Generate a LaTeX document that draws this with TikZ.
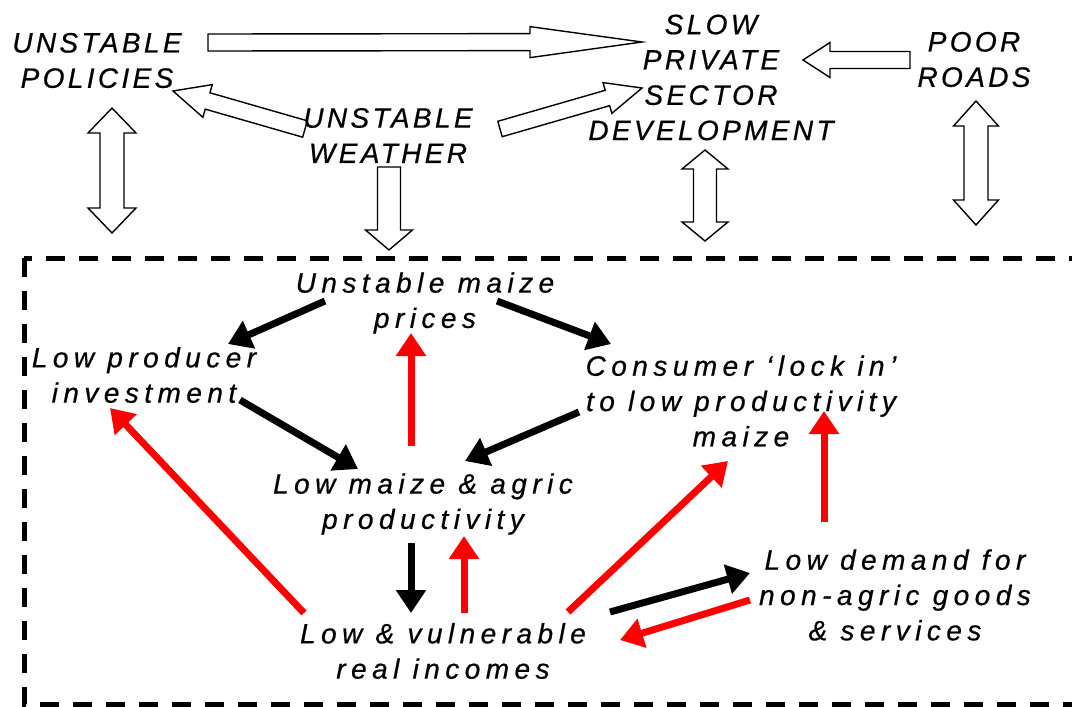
\documentclass[tikz,border=0pt]{standalone}
\usepackage{fontspec}
\setmainfont{Liberation Sans}
\newfontfamily\capfont[LetterSpace=12,FakeBold=0.6]{Liberation Sans}
\newfontfamily\lowfont[LetterSpace=19.5,FakeBold=0.6]{Liberation Sans}
\usetikzlibrary{arrows.meta,calc}
\pgfdeclarelayer{bg}
\pgfsetlayers{bg,main}
% hollow single block arrow: #1 tail, #2 tip, #3 half shaft, #4 half head, #5 head length
\newcommand\hollowarrow[5]{%
  \path #1 coordinate (ha-t) #2 coordinate (ha-q);
  \path ($(ha-q)!#5!(ha-t)$) coordinate (ha-b);
  \draw[hollow] ($(ha-t)!#3!90:(ha-q)$) -- ($(ha-b)!#3!-90:(ha-t)$) -- ($(ha-b)!#4!-90:(ha-t)$) -- (ha-q)
     -- ($(ha-b)!#4!90:(ha-t)$) -- ($(ha-b)!#3!90:(ha-t)$) -- ($(ha-t)!#3!-90:(ha-q)$) -- cycle;
}
% hollow double block arrow: #1 tip one, #2 tip two, #3 half shaft, #4 half head, #5 head length
\newcommand\hollowdouble[5]{%
  \path #1 coordinate (hd-p) #2 coordinate (hd-q);
  \path ($(hd-p)!#5!(hd-q)$) coordinate (hd-a) ($(hd-q)!#5!(hd-p)$) coordinate (hd-b);
  \draw[hollow] (hd-p) -- ($(hd-a)!#4!90:(hd-q)$) -- ($(hd-a)!#3!90:(hd-q)$) -- ($(hd-b)!#3!-90:(hd-p)$)
     -- ($(hd-b)!#4!-90:(hd-p)$) -- (hd-q) -- ($(hd-b)!#4!90:(hd-p)$) -- ($(hd-b)!#3!90:(hd-p)$)
     -- ($(hd-a)!#3!-90:(hd-q)$) -- ($(hd-a)!#4!-90:(hd-q)$) -- cycle;
}
\begin{document}
\begin{tikzpicture}[x=1pt,y=-1pt,
  captxt/.style={font=\capfont\itshape\fontsize{28}{35.3}\selectfont, align=center, inner sep=0pt},
  lowtxt/.style={font=\lowfont\itshape\fontsize{28}{35.3}\selectfont, align=center, inner sep=0pt},
  hollow/.style={draw=black, fill=white, line width=1.4pt, line join=miter},
  arrbase/.style={line width=7pt, -{Triangle[length=23pt,width=29pt]}},
  arrblack/.style={arrbase, draw=black},
  arrred/.style={arrbase, draw=red},
  boxframe/.style={line width=5pt, dash pattern=on 19pt off 14pt}]
\useasboundingbox (0,0) rectangle (1072,707);
\clip (0,0) rectangle (1072,707);

% outer factors
\node[captxt] (pol) at (97,60.5) {UNSTABLE\\POLICIES};
\node[captxt] (slow) at (711,77.5) {SLOW\\PRIVATE\\SECTOR\\DEVELOPMENT};
\node[captxt] (roads) at (974,59.5) {POOR\\ROADS};
\node[captxt] (weather) at (388,135.5) {UNSTABLE\\WEATHER};

% inner cycle
\node[lowtxt] (prices) at (425,303) {Unstable maize\\prices};
\node[lowtxt] (invest) at (144,375) {Low producer\\investment};
\node[lowtxt] (consumer) at (741,401) {Consumer ‘lock in’\\to low productivity\\maize};
\node[lowtxt] (maize) at (423,504) {Low maize \& agric\\productivity};
\node[lowtxt] (income) at (443,651) {Low \& vulnerable\\real incomes};
\node[lowtxt] (demand) at (895,595) {Low demand for\\non-agric goods\\\& services};

\begin{pgfonlayer}{bg}
\draw[boxframe] (24,258) rectangle (1100,704);
\hollowarrow{([shift={(111,-18)}]pol.center)}{([shift={(-69,-35.5)}]slow.center)}{8.5pt}{15.5pt}{112pt}
\hollowarrow{([shift={(-83,-6.5)}]weather.center)}{([shift={(76,30.5)}]pol.center)}{8.5pt}{17pt}{36pt}
\hollowarrow{([shift={(112,-6.5)}]weather.center)}{([shift={(-69,10.5)}]slow.center)}{8pt}{16pt}{36pt}
\hollowarrow{([shift={(1,31.5)}]weather.center)}{([shift={(1,114.5)}]weather.center)}{11.5pt}{23.5pt}{20pt}
\hollowarrow{([shift={(-64,0.5)}]roads.center)}{([shift={(92,-17.5)}]slow.center)}{8.5pt}{17.5pt}{27pt}
\hollowdouble{([shift={(15,47.5)}]pol.center)}{([shift={(15,172.5)}]pol.center)}{12pt}{24pt}{25pt}
\hollowdouble{([shift={(-6,72.5)}]slow.center)}{([shift={(-6,163.5)}]slow.center)}{11.5pt}{23pt}{19pt}
\hollowdouble{([shift={(2,41.5)}]roads.center)}{([shift={(2,165.5)}]roads.center)}{12pt}{22.5pt}{25pt}
\end{pgfonlayer}

% black links
\draw[arrblack] ([shift={(-100,-2)}]prices.center) -- ([shift={(84,-31)}]invest.center);
\draw[arrblack] ([shift={(72,-2)}]prices.center) -- ([shift={(-130,-57)}]consumer.center);
\draw[arrblack] ([shift={(96,25)}]invest.center) -- ([shift={(-65,-35)}]maize.center);
\draw[arrblack] ([shift={(-162,11)}]consumer.center) -- ([shift={(42,-43)}]maize.center);
\draw[arrblack] ([shift={(-12,39)}]maize.center) -- ([shift={(-32,-38)}]income.center);
\draw[arrblack] ([shift={(167,-39)}]income.center) -- ([shift={(-145,-22)}]demand.center);
% red links
\draw[arrred] ([shift={(-12,-58)}]maize.center) -- ([shift={(-14,30)}]prices.center);
\draw[arrred] ([shift={(-139,-38)}]income.center) -- ([shift={(-34,33)}]invest.center);
\draw[arrred] ([shift={(21,-38)}]income.center) -- ([shift={(41,32)}]maize.center);
\draw[arrred] ([shift={(125,-39)}]income.center) -- ([shift={(-13,60)}]consumer.center);
\draw[arrred] ([shift={(-71,-73)}]demand.center) -- ([shift={(83,10)}]consumer.center);
\draw[arrred] ([shift={(-145,5)}]demand.center) -- ([shift={(177,-11)}]income.center);
\end{tikzpicture}
\end{document}
